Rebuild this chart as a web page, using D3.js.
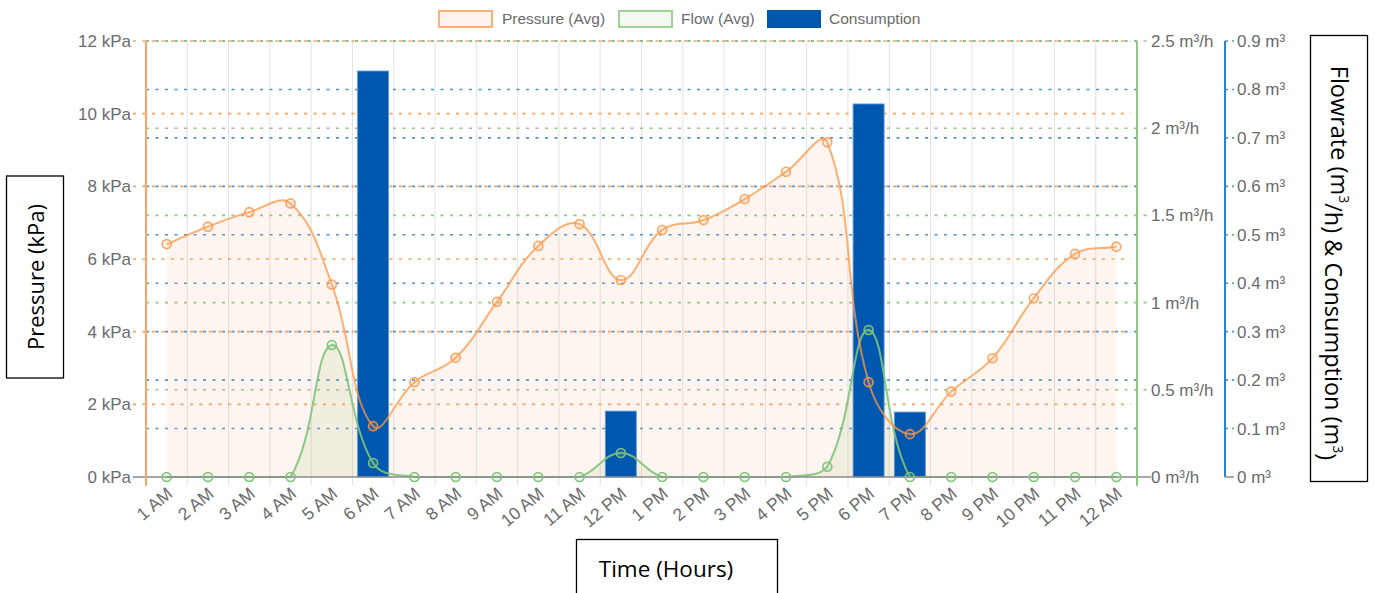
<!DOCTYPE html>
<html><head><meta charset="utf-8">
<script src="https://cdn.jsdelivr.net/npm/d3@7"></script>
<style>body{margin:0;background:#fff} svg{display:block}</style>
</head><body><svg id="c" width="1375" height="593"></svg>
<script>
// ---------- data ----------
const hours = ["1 AM","2 AM","3 AM","4 AM","5 AM","6 AM","7 AM","8 AM","9 AM","10 AM","11 AM","12 PM",
               "1 PM","2 PM","3 PM","4 PM","5 PM","6 PM","7 PM","8 PM","9 PM","10 PM","11 PM","12 AM"];
const pressure = [6.41,6.89,7.29,7.53,5.30,1.40,2.61,3.28,4.82,6.36,6.96,5.42,
                  6.80,7.07,7.65,8.40,9.21,2.61,1.18,2.35,3.27,4.92,6.14,6.34];
const flow = [0,0,0,0,0.757,0.08,0,0,0,0,0,0.138,
              0,0,0,0,0.059,0.843,0,0,0,0,0,0];
const consumption = [0,0,0,0,0,0.838,0,0,0,0,0,0.136,
                     0,0,0,0,0,0.77,0.134,0,0,0,0,0];
const pressureTicks = [0,2,4,6,8,10,12];
const flowTicks = [0,0.5,1,1.5,2,2.5];
const consTicks = [0,0.1,0.2,0.3,0.4,0.5,0.6,0.7,0.8,0.9];
const legendItems = ["Pressure (Avg)","Flow (Avg)","Consumption"];

// ---------- layout ----------
const svg = d3.select("#c");
const L = 146, R = 1137, T = 41, B = 477;
const x = d3.scaleBand().domain(hours).range([L, R]).paddingInner(0).paddingOuter(0);
const yP = d3.scaleLinear().domain([0,12]).range([B, T]);
const yF = d3.scaleLinear().domain([0,2.5]).range([B, T]);
const yC = d3.scaleLinear().domain([0,0.9]).range([B, T]);
const cx = d => x(d) + x.bandwidth()/2;

const ORANGE = "rgb(255,150,70)", GREEN = "rgb(125,195,125)", BLUE = "#0058ae";
const font = "'Liberation Sans', Arial, sans-serif";
const tickCol = "#6b6b6b";

// ---------- vertical gridlines ----------
const edges = hours.map(h => x(h)).slice(1);
svg.append("g").selectAll("line").data(edges).join("line")
  .attr("x1", d => d).attr("x2", d => d).attr("y1", T).attr("y2", B + 9)
  .attr("stroke", "#e3e3e3").attr("stroke-width", 1);

// ---------- horizontal dotted gridlines ----------
const dash = "3,6.5";
svg.append("g").selectAll("line").data(consTicks.slice(1)).join("line")
  .attr("x1", L).attr("x2", R).attr("y1", d => yC(d)).attr("y2", d => yC(d))
  .attr("stroke", "rgb(80,145,210)").attr("stroke-width", 1.6).attr("stroke-dasharray", dash);
svg.append("g").selectAll("line").data(flowTicks.slice(1)).join("line")
  .attr("x1", L).attr("x2", R + 14).attr("y1", d => yF(d)).attr("y2", d => yF(d))
  .attr("stroke", "rgb(140,200,130)").attr("stroke-width", 1.6).attr("stroke-dasharray", dash);
svg.append("g").selectAll("line").data(pressureTicks.slice(1)).join("line")
  .attr("x1", L - 13).attr("x2", R - 6).attr("y1", d => yP(d)).attr("y2", d => yP(d))
  .attr("stroke", "rgb(255,160,90)").attr("stroke-width", 1.6).attr("stroke-dasharray", dash);
// blue tick marks on consumption axis
svg.append("g").selectAll("line").data(consTicks.slice(1)).join("line")
  .attr("x1", 1225).attr("x2", 1234).attr("y1", d => yC(d)).attr("y2", d => yC(d))
  .attr("stroke", "rgb(80,145,210)").attr("stroke-width", 1.6).attr("stroke-dasharray", "3,4");

// ---------- Chart.js-like spline ----------
function splinePath(pts, t, area, close) {
  const n = pts.length;
  const cap = (v, lo, hi) => Math.max(Math.min(v, hi), lo);
  const cps = pts.map((p, i) => {
    const prev = i > 0 ? pts[i-1] : p, next = i < n-1 ? pts[i+1] : p;
    const d01 = Math.hypot(p[0]-prev[0], p[1]-prev[1]);
    const d12 = Math.hypot(next[0]-p[0], next[1]-p[1]);
    let s01 = d01/(d01+d12), s12 = d12/(d01+d12);
    if (isNaN(s01)) s01 = 0; if (isNaN(s12)) s12 = 0;
    const fa = t*s01, fb = t*s12;
    return {
      px: cap(p[0]-fa*(next[0]-prev[0]), area.l, area.r), py: cap(p[1]-fa*(next[1]-prev[1]), area.t, area.b),
      nx: cap(p[0]+fb*(next[0]-prev[0]), area.l, area.r), ny: cap(p[1]+fb*(next[1]-prev[1]), area.t, area.b)
    };
  });
  const path = d3.path();
  path.moveTo(pts[0][0], pts[0][1]);
  for (let i = 1; i < n; i++) {
    path.bezierCurveTo(cps[i-1].nx, cps[i-1].ny, cps[i].px, cps[i].py, pts[i][0], pts[i][1]);
  }
  if (close) {
    path.lineTo(pts[n-1][0], area.b);
    path.lineTo(pts[0][0], area.b);
    path.closePath();
  }
  return path.toString();
}
const area = {l: L, r: R, t: T, b: B};
const fPts = flow.map((v,i)=>[cx(hours[i]), yF(v)]);
const pPts = pressure.map((v,i)=>[cx(hours[i]), yP(v)]);

// ---------- fills ----------
svg.append("path").attr("d", splinePath(pPts, 0.4, area, true))
  .attr("fill", "rgba(255,160,110,0.1)");
svg.append("path").attr("d", splinePath(fPts, 0.4, area, true))
  .attr("fill", "rgba(150,190,110,0.13)");

// ---------- bars ----------
const bw = x.bandwidth() * 0.75;
svg.append("g").selectAll("rect").data(consumption.map((v,i)=>({h:hours[i], v})).filter(d=>d.v>0)).join("rect")
  .attr("x", d => cx(d.h) - bw/2).attr("width", bw)
  .attr("y", d => yC(d.v)).attr("height", d => B - yC(d.v))
  .attr("fill", BLUE).attr("stroke", "rgba(90,150,215,0.9)").attr("stroke-width", 1);

// ---------- lines ----------
svg.append("path").attr("d", splinePath(fPts, 0.4, area, false))
  .attr("fill", "none").attr("stroke", GREEN).attr("stroke-width", 2).attr("stroke-opacity", 0.9);
svg.append("path").attr("d", splinePath(pPts, 0.4, area, false))
  .attr("fill", "none").attr("stroke", ORANGE).attr("stroke-width", 2).attr("stroke-opacity", 0.75);

// zero line
svg.append("line").attr("x1", L - 13).attr("x2", R + 14).attr("y1", B).attr("y2", B)
  .attr("stroke", "#8a8a8a").attr("stroke-width", 1.5);

// points
svg.append("g").selectAll("circle").data(fPts).join("circle")
  .attr("cx", d => d[0]).attr("cy", d => d[1]).attr("r", 4.5)
  .attr("fill", "rgba(140,200,130,0.15)").attr("stroke", GREEN).attr("stroke-width", 1.6);
svg.append("g").selectAll("circle").data(pPts).join("circle")
  .attr("cx", d => d[0]).attr("cy", d => d[1]).attr("r", 4.5)
  .attr("fill", "rgba(255,170,110,0.15)").attr("stroke", ORANGE).attr("stroke-width", 1.6).attr("stroke-opacity", 0.85);

// ---------- axes lines ----------
svg.append("line").attr("x1", L).attr("x2", L).attr("y1", T).attr("y2", B + 9)
  .attr("stroke", "rgb(255,165,100)").attr("stroke-width", 2);
svg.append("line").attr("x1", R).attr("x2", R).attr("y1", T).attr("y2", B + 9)
  .attr("stroke", "rgb(140,200,130)").attr("stroke-width", 2);
svg.append("line").attr("x1", 1225).attr("x2", 1225).attr("y1", T).attr("y2", B)
  .attr("stroke", "rgb(40,130,210)").attr("stroke-width", 2);
svg.append("line").attr("x1", 1225).attr("x2", 1234).attr("y1", B).attr("y2", B)
  .attr("stroke", "#8a8a8a").attr("stroke-width", 1.5);

// ---------- tick labels ----------
const tfs = 17;
svg.append("g").selectAll("text").data(pressureTicks).join("text")
  .attr("x", 131).attr("y", d => yP(d)).attr("dy", "0.35em").attr("text-anchor", "end")
  .attr("font-family", font).attr("font-size", tfs).attr("fill", tickCol)
  .text(d => d + " kPa");
svg.append("g").selectAll("text").data(flowTicks).join("text")
  .attr("x", 1151).attr("y", d => yF(d)).attr("dy", "0.35em")
  .attr("font-family", font).attr("font-size", tfs).attr("fill", tickCol)
  .text(d => d + " m³/h");
svg.append("g").selectAll("text").data(consTicks).join("text")
  .attr("x", 1237).attr("y", d => yC(d)).attr("dy", "0.35em")
  .attr("font-family", font).attr("font-size", tfs).attr("fill", tickCol)
  .text(d => d + " m³");
svg.append("g").selectAll("text").data(hours).join("text")
  .attr("transform", d => `translate(${cx(d)+3},${B + 14}) rotate(-40)`)
  .attr("text-anchor", "end").attr("dy", "0.35em")
  .attr("font-family", font).attr("font-size", 17.5).attr("fill", tickCol)
  .text(d => d);

// ---------- legend ----------
const lg = [
  {x: 439, w: 53, fill: "rgba(255,160,110,0.12)", stroke: "rgb(255,175,120)"},
  {x: 619, w: 53, fill: "rgba(150,200,130,0.1)", stroke: "rgb(160,210,150)"},
  {x: 768, w: 52, fill: BLUE, stroke: BLUE}
];
const lgText = [502, 681, 829];
legendItems.forEach((name, i) => {
  svg.append("rect").attr("x", lg[i].x).attr("y", 11).attr("width", lg[i].w).attr("height", 16)
    .attr("fill", lg[i].fill).attr("stroke", lg[i].stroke).attr("stroke-width", 2);
  svg.append("text").attr("x", lgText[i]).attr("y", 19).attr("dy", "0.35em")
    .attr("font-family", font).attr("font-size", 15.5).attr("fill", tickCol).text(name);
});

// ---------- axis title boxes ----------
const tFont = "'Open Sans', Lato, sans-serif";
svg.append("rect").attr("x", 6.5).attr("y", 176).attr("width", 57).attr("height", 202)
  .attr("fill", "#fff").attr("stroke", "#000").attr("stroke-width", 1.3);
svg.append("text").attr("transform", "translate(36,277) rotate(-90)").attr("text-anchor", "middle")
  .attr("dy", "0.35em").attr("font-family", tFont).attr("font-size", 22).attr("fill", "#000")
  .text("Pressure (kPa)");

svg.append("rect").attr("x", 1310.5).attr("y", 35.5).attr("width", 57).attr("height", 446)
  .attr("fill", "#fff").attr("stroke", "#000").attr("stroke-width", 1.3);
const rt = svg.append("text").attr("transform", "translate(1339,263) rotate(90)").attr("text-anchor", "middle")
  .attr("dy", "0.35em").attr("font-family", tFont).attr("font-size", 23.5).attr("fill", "#000");
rt.append("tspan").text("Flowrate (m");
rt.append("tspan").attr("font-size", 14).attr("dy", "-0.6em").text("3");
rt.append("tspan").attr("dy", "0.6em").text("/h) & Consumption (m");
rt.append("tspan").attr("font-size", 14).attr("dy", "-0.6em").text("3");
rt.append("tspan").attr("dy", "0.6em").text(")");

svg.append("rect").attr("x", 576.5).attr("y", 539.5).attr("width", 201).attr("height", 70)
  .attr("fill", "#fff").attr("stroke", "#000").attr("stroke-width", 1.3);
svg.append("text").attr("x", 666).attr("y", 577).attr("text-anchor", "middle")
  .attr("font-family", tFont).attr("font-size", 22.5).attr("fill", "#000")
  .text("Time (Hours)");
</script></body></html>
